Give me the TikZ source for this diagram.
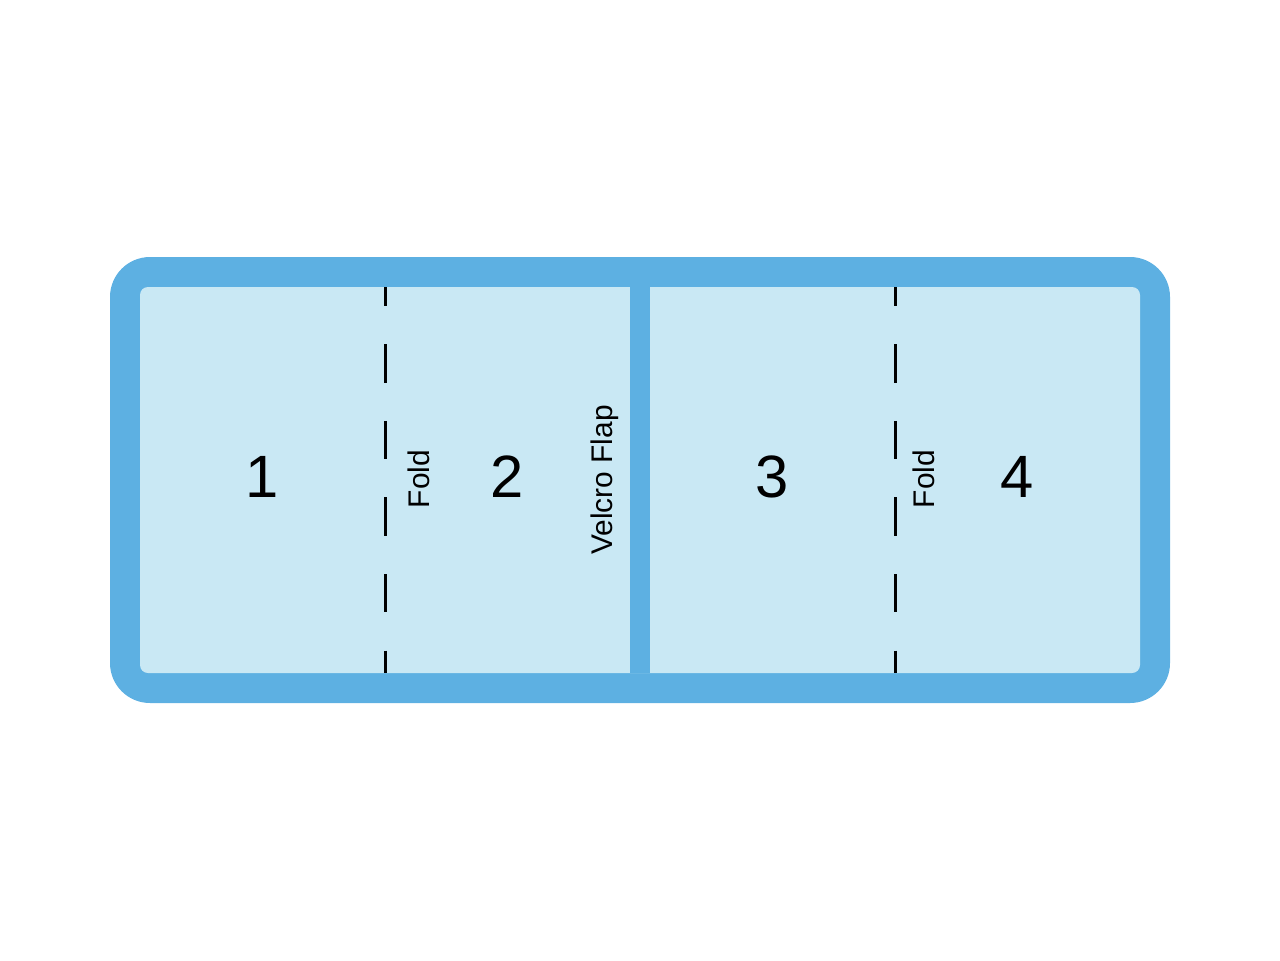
\documentclass[tikz,border=0pt]{standalone}
\usepackage{fontspec}
\setmainfont{Liberation Sans}
\definecolor{flapborder}{HTML}{5DB0E2}
\definecolor{flapfill}{HTML}{C9E8F4}
\tikzset{
  panelnum/.style={font=\fontsize{34}{40}\selectfont, inner sep=0pt},
  sidelabel/.style={font=\fontsize{17}{20}\selectfont, rotate=90, anchor=base, inner sep=0pt},
  foldline/.style={black, line width=1.7pt, dash pattern=on 21.8pt off 21.8pt, dash phase=11pt}
}
\begin{document}
\begin{tikzpicture}[x=0.02cm, y=-0.02cm]

  \useasboundingbox (0,0) rectangle (1280,960);

  % Outer band, one piece
  \fill[flapborder, rounded corners=0.8cm] (110,257) rectangle (1170,703);

  % Inner face
  \fill[flapfill, rounded corners=0.16cm] (140,287) rectangle (1140,673);

  % Velcro strip between the halves
  \fill[flapborder] (630,287) rectangle (650,673);

  % Fold lines
  \coordinate (foldAtop) at (385,287);
  \coordinate (foldAbot) at (385,673);
  \coordinate (foldBtop) at (895,287);
  \coordinate (foldBbot) at (895,673);
  \draw[foldline] (foldAtop) -- (foldAbot);
  \draw[foldline] (foldBtop) -- (foldBbot);

  % Panel numbers
  \foreach \n/\x in {1/262.5, 2/507.5, 3/772.5, 4/1017.5} {
    \node[panelnum] (panel\n) at (\x, 477) {\n};
  }

  % Side labels
  \node[sidelabel] (foldA) at (429, 479) {Fold};
  \node[sidelabel] (foldB) at (934, 479) {Fold};
  \node[sidelabel] (velcro) at (612, 480) {Velcro Flap};

\end{tikzpicture}
\end{document}
